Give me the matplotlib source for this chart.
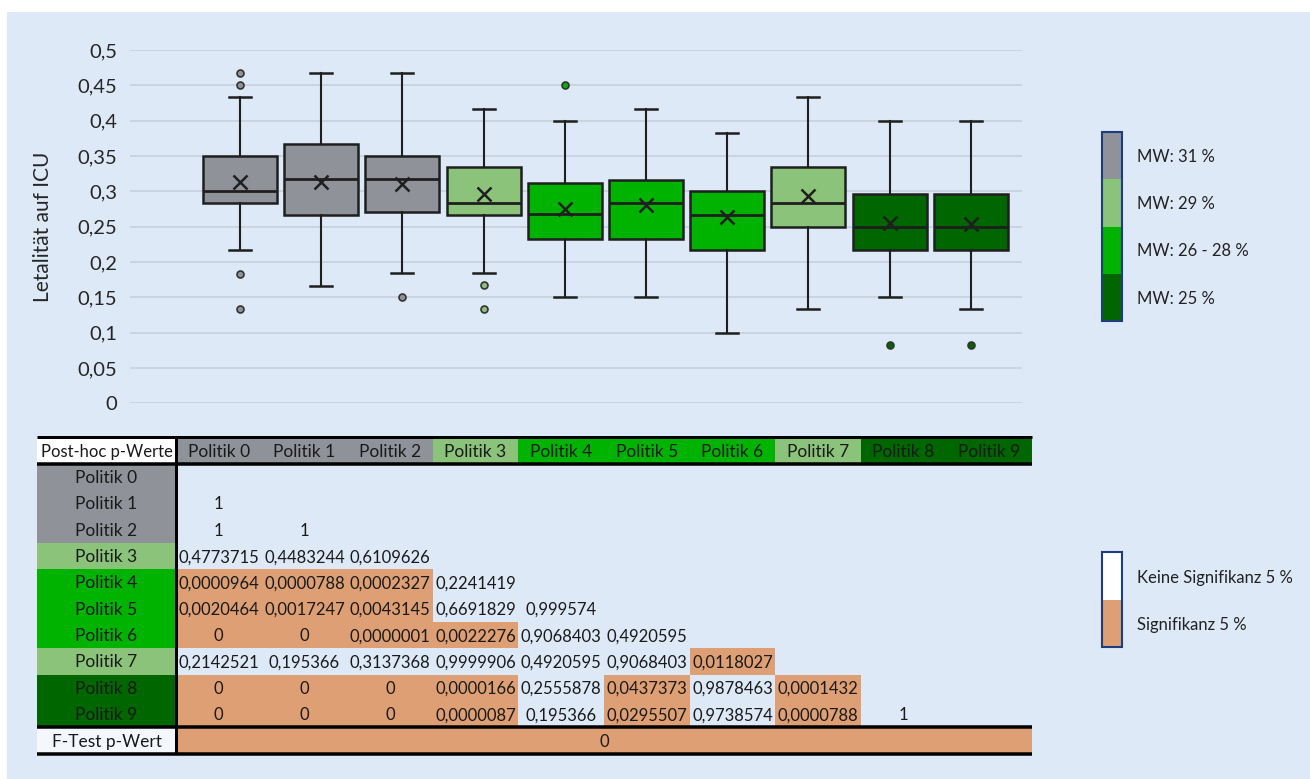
import matplotlib
matplotlib.use("Agg")
import matplotlib.pyplot as plt
from matplotlib.patches import Rectangle
from matplotlib.ticker import FuncFormatter, MultipleLocator

plt.rcParams['font.family'] = ['Lato', 'DejaVu Sans']

# ---------------- data ----------------
policies = ["Politik 0", "Politik 1", "Politik 2", "Politik 3", "Politik 4",
            "Politik 5", "Politik 6", "Politik 7", "Politik 8", "Politik 9"]
whislo = [0.217, 0.166, 0.184, 0.184, 0.150, 0.150, 0.100, 0.134, 0.150, 0.134]
q1     = [0.284, 0.267, 0.271, 0.267, 0.233, 0.233, 0.217, 0.250, 0.217, 0.217]
med    = [0.300, 0.317, 0.317, 0.284, 0.268, 0.284, 0.267, 0.284, 0.250, 0.250]
q3     = [0.350, 0.367, 0.350, 0.334, 0.312, 0.316, 0.300, 0.334, 0.296, 0.296]
whishi = [0.434, 0.467, 0.467, 0.417, 0.400, 0.417, 0.383, 0.434, 0.400, 0.400]
means  = [0.313, 0.313, 0.310, 0.296, 0.275, 0.281, 0.263, 0.293, 0.255, 0.254]
outliers = [[0.467, 0.450, 0.183, 0.134], [], [0.150], [0.167, 0.134], [0.450],
            [], [], [], [0.083], [0.083]]
group_of = [0, 0, 0, 1, 2, 2, 2, 1, 3, 3]
group_colors = ["#8f9399", "#8bc37b", "#00b300", "#006600"]
group_labels = ["MW: 31 %", "MW: 29 %", "MW: 26 - 28 %", "MW: 25 %"]

# post-hoc p-values (lower triangle, row i vs columns 0..i-1)
pvals = [
    [],
    ["1"],
    ["1", "1"],
    ["0,4773715", "0,4483244", "0,6109626"],
    ["0,0000964", "0,0000788", "0,0002327", "0,2241419"],
    ["0,0020464", "0,0017247", "0,0043145", "0,6691829", "0,999574"],
    ["0", "0", "0,0000001", "0,0022276", "0,9068403", "0,4920595"],
    ["0,2142521", "0,195366", "0,3137368", "0,9999906", "0,4920595", "0,9068403", "0,0118027"],
    ["0", "0", "0", "0,0000166", "0,2555878", "0,0437373", "0,9878463", "0,0001432"],
    ["0", "0", "0", "0,0000087", "0,195366", "0,0295507", "0,9738574", "0,0000788", "1"],
]
ftest_p = "0"
alpha = 0.05
sig_labels = ["Keine Signifikanz 5 %", "Signifikanz 5 %"]

# ---------------- style ----------------
BG = "#dde9f7"
ORANGE = "#dd9f73"
EDGE = "#1f1f1f"
NAVY = "#1f3c7e"

W, H = 1310, 779
fig = plt.figure(figsize=(W / 100, H / 100), dpi=100, facecolor="white")

# overlay axes in pixel coordinates for background, table and legends
ov = fig.add_axes([0, 0, 1, 1], zorder=0)
ov.set_xlim(0, W)
ov.set_ylim(H, 0)
ov.axis("off")
ov.add_patch(Rectangle((7, 12), W - 7, H - 12, facecolor=BG, edgecolor="none", zorder=0))

# ---------------- box plot ----------------
ax_l, ax_r, ax_t, ax_b = 130, 1022, 50, 403.3
ax = fig.add_axes([ax_l / W, 1 - ax_b / H, (ax_r - ax_l) / W, (ax_b - ax_t) / H], zorder=2)
ax.set_facecolor("none")

stats = []
for i in range(len(policies)):
    stats.append(dict(med=med[i], q1=q1[i], q3=q3[i], whislo=whislo[i], whishi=whishi[i],
                      mean=means[i], fliers=outliers[i], label=policies[i]))
positions = list(range(len(policies)))
bp = ax.bxp(stats, positions=positions, widths=0.91, patch_artist=True, showmeans=True,
            capwidths=0.27,
            boxprops=dict(edgecolor=EDGE, linewidth=1.8),
            medianprops=dict(color=EDGE, linewidth=2.0),
            whiskerprops=dict(color=EDGE, linewidth=1.5),
            capprops=dict(color=EDGE, linewidth=1.8),
            meanprops=dict(marker="x", markersize=10.5, markeredgecolor=EDGE, markeredgewidth=1.8),
            flierprops=dict(marker="o", markersize=5, markeredgecolor="#333333", markeredgewidth=1.2))
for i, box in enumerate(bp["boxes"]):
    box.set_facecolor(group_colors[group_of[i]])
for i, fl in enumerate(bp["fliers"]):
    fl.set_markerfacecolor(group_colors[group_of[i]])

ax.set_ylim(0, 0.5)
ax.set_xlim(-1.355, 9.63)
ax.yaxis.set_major_locator(MultipleLocator(0.05))
ax.yaxis.set_major_formatter(FuncFormatter(lambda v, p: f"{round(v, 2):g}".replace(".", ",")))
ax.grid(axis="y", color="#c5d0dc", linewidth=1.2)
ax.set_axisbelow(True)
ax.set_xticks([])
for s in ax.spines.values():
    s.set_visible(False)
ax.tick_params(axis="y", length=0, pad=9, labelsize=14.5, labelcolor="#262626")
ax.set_ylabel("Letalität auf ICU", fontsize=15, color="#262626")
ax.yaxis.set_label_coords(-0.0863, 0.5)

# ---------------- legend 1 (groups) ----------------
lx, lw_ = 1102, 20
ly0, seg = 132, 47.3
for k, (c, lab) in enumerate(zip(group_colors, group_labels)):
    y = ly0 + k * seg
    ov.add_patch(Rectangle((lx, y), lw_, seg, facecolor=c, edgecolor="none", zorder=3))
    ov.text(1137, y + seg / 2 + 1, lab, fontsize=12, va="center", ha="left", color="#222222", zorder=4)
ov.add_patch(Rectangle((lx, ly0), lw_, 4 * seg, facecolor="none", edgecolor=NAVY, linewidth=1.5, zorder=4))

# ---------------- legend 2 (significance) ----------------
sy0, sseg = 552, 47.5
for k, (c, lab) in enumerate(zip(["white", ORANGE], sig_labels)):
    y = sy0 + k * sseg
    ov.add_patch(Rectangle((lx, y), lw_, sseg, facecolor=c, edgecolor="none", zorder=3))
    ov.text(1137, y + sseg / 2 + 2, lab, fontsize=12, va="center", ha="left", color="#222222", zorder=4)
ov.add_patch(Rectangle((lx, sy0), lw_, 2 * sseg, facecolor="none", edgecolor=NAVY, linewidth=1.5, zorder=4))

# ---------------- table ----------------
t_left, lab_right, t_right = 37, 176, 1032
col_w = (t_right - lab_right) / len(policies)
h_top, h_bot = 437, 464
row_h = 26.33
f_top = h_bot + row_h * len(policies)
f_bot = f_top + 27
fs_lab = 12.5
fs_val = 12
tc = "#1a1a1a"

# header row
ov.add_patch(Rectangle((t_left, h_top), lab_right - t_left, h_bot - h_top, facecolor="white", edgecolor="none", zorder=2))
ov.text((t_left + lab_right) / 2, (h_top + h_bot) / 2 + 1, "Post-hoc p-Werte", fontsize=fs_val,
        ha="center", va="center", color=tc, zorder=5)
for j, name in enumerate(policies):
    x0 = lab_right + j * col_w
    ov.add_patch(Rectangle((x0, h_top), col_w, h_bot - h_top, facecolor=group_colors[group_of[j]],
                           edgecolor="none", zorder=2))
    ov.text(x0 + col_w / 2, (h_top + h_bot) / 2 + 1, name, fontsize=fs_lab, ha="center", va="center",
            color=tc, zorder=5)

# body rows
for i, name in enumerate(policies):
    y0 = h_bot + i * row_h
    ov.add_patch(Rectangle((t_left, y0), lab_right - t_left, row_h, facecolor=group_colors[group_of[i]],
                           edgecolor="none", zorder=2))
    ov.text((t_left + lab_right) / 2, y0 + row_h / 2 + 1, name, fontsize=fs_lab, ha="center", va="center",
            color=tc, zorder=5)
    for j, s in enumerate(pvals[i]):
        x0 = lab_right + j * col_w
        if float(s.replace(",", ".")) < alpha:
            ov.add_patch(Rectangle((x0, y0), col_w, row_h, facecolor=ORANGE, edgecolor="none", zorder=2))
        ov.text(x0 + col_w / 2, y0 + row_h / 2 + 1, s, fontsize=fs_val, ha="center", va="center",
                color=tc, zorder=5)

# F-test row
ov.add_patch(Rectangle((t_left, f_top), lab_right - t_left, f_bot - f_top, facecolor="#f4f8fd",
                       edgecolor="none", zorder=2))
ov.text((t_left + lab_right) / 2, (f_top + f_bot) / 2 + 1, "F-Test p-Wert", fontsize=fs_lab,
        ha="center", va="center", color=tc, zorder=5)
fcol = ORANGE if float(ftest_p.replace(",", ".")) < alpha else "none"
ov.add_patch(Rectangle((lab_right, f_top), t_right - lab_right, f_bot - f_top, facecolor=fcol,
                       edgecolor="none", zorder=2))
ov.text((lab_right + t_right) / 2, (f_top + f_bot) / 2 + 1, ftest_p, fontsize=fs_val,
        ha="center", va="center", color=tc, zorder=5)

# thick rules
for yy, lwd in [(h_top, 3), (h_bot, 3.5), (f_top, 3.5), (f_bot, 3.5)]:
    ov.plot([t_left, t_right], [yy, yy], color="black", linewidth=lwd * 0.72, solid_capstyle="butt", zorder=6)
ov.plot([lab_right, lab_right], [h_top, f_bot], color="black", linewidth=3 * 0.72,
        solid_capstyle="butt", zorder=6)

fig.savefig("out.png", dpi=100, facecolor="white")
